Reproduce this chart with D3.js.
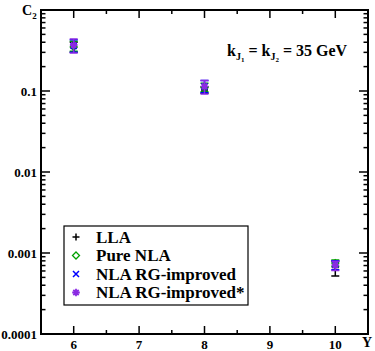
<!DOCTYPE html>
<html><head><meta charset="utf-8">
<script src="https://cdn.jsdelivr.net/npm/d3@7"></script>
<style>body{margin:0;background:#fff}svg{display:block}text{font-family:"Liberation Serif","Times New Roman",serif;font-weight:bold}</style>
</head><body><svg id="c" width="375" height="351"></svg>
<script>
const rapidity = [6, 8, 10];
const xTicks = [6, 7, 8, 9, 10];
const yTicks = [1e-4, 1e-3, 1e-2, 1e-1, 1];
const yTickLabels = ["0.0001", "0.001", "0.01", "0.1", ""];
const llaVal = [0.345, 0.103, 0.00066];
const llaLo = [0.30, 0.094, 0.00052];
const llaHi = [0.40, 0.113, 0.00079];
const pureVal = [0.35, 0.110, 0.00075];
const pureLo = [0.31, 0.098, 0.00068];
const pureHi = [0.41, 0.125, 0.00082];
const rgVal = [0.36, 0.114, 0.00072];
const rgLo = [0.30, 0.095, 0.00062];
const rgHi = [0.43, 0.135, 0.00080];
const rgsVal = [0.37, 0.114, 0.00071];
const rgsLo = [0.295, 0.092, 0.00061];
const rgsHi = [0.44, 0.135, 0.00079];
const seriesNames = ["LLA", "Pure NLA", "NLA RG-improved", "NLA RG-improved*"];

const svg = d3.select("#c");
const L = 41, R = 368, T = 10, B = 334;
const x = d3.scaleLinear().domain([5.5, 10.5]).range([L, R]);
const y = d3.scaleLog().domain([1e-4, 1]).range([B, T]);

svg.append("rect").attr("x", L).attr("y", T).attr("width", R - L).attr("height", B - T)
  .attr("fill", "none").attr("stroke", "#000").attr("stroke-width", 2);

const xMinor = d3.range(5.5, 10.51, 0.5).filter(v => !xTicks.includes(v) && v > 5.5 && v < 10.5);
const tg = svg.append("g").attr("stroke", "#000").attr("stroke-width", 1.5);
xTicks.forEach(v => {
  tg.append("line").attr("x1", x(v)).attr("x2", x(v)).attr("y1", B).attr("y2", B - 8);
  tg.append("line").attr("x1", x(v)).attr("x2", x(v)).attr("y1", T).attr("y2", T + 8);
});
xMinor.forEach(v => {
  tg.append("line").attr("x1", x(v)).attr("x2", x(v)).attr("y1", B).attr("y2", B - 4);
  tg.append("line").attr("x1", x(v)).attr("x2", x(v)).attr("y1", T).attr("y2", T + 4);
});
yTicks.forEach(v => {
  tg.append("line").attr("x1", L).attr("x2", L + 9).attr("y1", y(v)).attr("y2", y(v));
  tg.append("line").attr("x1", R).attr("x2", R - 9).attr("y1", y(v)).attr("y2", y(v));
});
const yMinor = [];
for (let d = 1e-4; d < 1; d *= 10) for (let k = 2; k <= 9; k++) yMinor.push(d * k);
yMinor.forEach(v => {
  tg.append("line").attr("x1", L).attr("x2", L + 4.5).attr("y1", y(v)).attr("y2", y(v));
  tg.append("line").attr("x1", R).attr("x2", R - 4.5).attr("y1", y(v)).attr("y2", y(v));
});

svg.append("g").selectAll("text").data(xTicks).join("text")
  .attr("x", d => x(d)).attr("y", 349).attr("text-anchor", "middle")
  .attr("font-size", 13).text(d => d);
svg.append("g").selectAll("text").data(yTicks).join("text")
  .attr("x", 37).attr("y", d => y(d) + 4.5).attr("text-anchor", "end")
  .attr("font-size", 13).text((d, i) => yTickLabels[i]);

const c2 = svg.append("text").attr("x", 22).attr("y", 15).attr("font-size", 14);
c2.append("tspan").text("C");
c2.append("tspan").attr("font-size", 9).attr("dy", 4).text("2");
svg.append("text").attr("x", 362).attr("y", 347).attr("font-size", 14).text("Y");

const ann = svg.append("text").attr("x", 227).attr("y", 56).attr("font-size", 16);
ann.append("tspan").text("k");
ann.append("tspan").attr("font-size", 10).attr("dy", 4).text("J");
ann.append("tspan").attr("font-size", 7).attr("dy", 2).text("1");
ann.append("tspan").attr("dy", -6).text(" = k");
ann.append("tspan").attr("font-size", 10).attr("dy", 4).text("J");
ann.append("tspan").attr("font-size", 7).attr("dy", 2).text("2");
ann.append("tspan").attr("dy", -6).text(" = 35 GeV");

function drawMarker(g, type, cx, cy, color) {
  if (type === 0) {
    g.append("path").attr("d", `M${cx-3.5},${cy}H${cx+3.5}M${cx},${cy-3.5}V${cy+3.5}`)
      .attr("stroke", color).attr("stroke-width", 1.5).attr("fill", "none");
  } else if (type === 1) {
    g.append("path").attr("d", `M${cx},${cy-3.5}L${cx+3.5},${cy}L${cx},${cy+3.5}L${cx-3.5},${cy}Z`)
      .attr("stroke", color).attr("stroke-width", 1.3).attr("fill", "none");
  } else if (type === 2) {
    g.append("path").attr("d", `M${cx-3},${cy-3}L${cx+3},${cy+3}M${cx-3},${cy+3}L${cx+3},${cy-3}`)
      .attr("stroke", color).attr("stroke-width", 1.5).attr("fill", "none");
  } else {
    let p = "";
    for (let a = 0; a < 4; a++) {
      const t = a * Math.PI / 4;
      p += `M${cx - 3.8*Math.cos(t)},${cy - 3.8*Math.sin(t)}L${cx + 3.8*Math.cos(t)},${cy + 3.8*Math.sin(t)}`;
    }
    g.append("path").attr("d", p).attr("stroke", color).attr("stroke-width", 1.8).attr("fill", "none");
  }
}

const colors = ["#000000", "#00a000", "#0000ff", "#8a2be2"];
const allSeries = [
  [llaVal, llaLo, llaHi],
  [pureVal, pureLo, pureHi],
  [rgVal, rgLo, rgHi],
  [rgsVal, rgsLo, rgsHi]
];
allSeries.forEach((s, si) => {
  const g = svg.append("g");
  rapidity.forEach((r, i) => {
    const cx = x(r);
    const ylo = y(s[1][i]), yhi = y(s[2][i]);
    g.append("path").attr("d", `M${cx},${ylo}V${yhi}M${cx-4},${ylo}H${cx+4}M${cx-4},${yhi}H${cx+4}`)
      .attr("stroke", colors[si]).attr("stroke-width", 1.5).attr("fill", "none");
    drawMarker(g, si, cx, y(s[0][i]), colors[si]);
  });
});

const lg = svg.append("g");
lg.append("rect").attr("x", 64).attr("y", 226).attr("width", 184).attr("height", 79)
  .attr("fill", "#fff").attr("stroke", "#000").attr("stroke-width", 1.2);
seriesNames.forEach((n, i) => {
  const yy = 237 + i * 18.5;
  drawMarker(lg, i, 76, yy, colors[i]);
  lg.append("text").attr("x", 96).attr("y", yy + 5.5).attr("font-size", 17).text(n);
});
</script></body></html>
